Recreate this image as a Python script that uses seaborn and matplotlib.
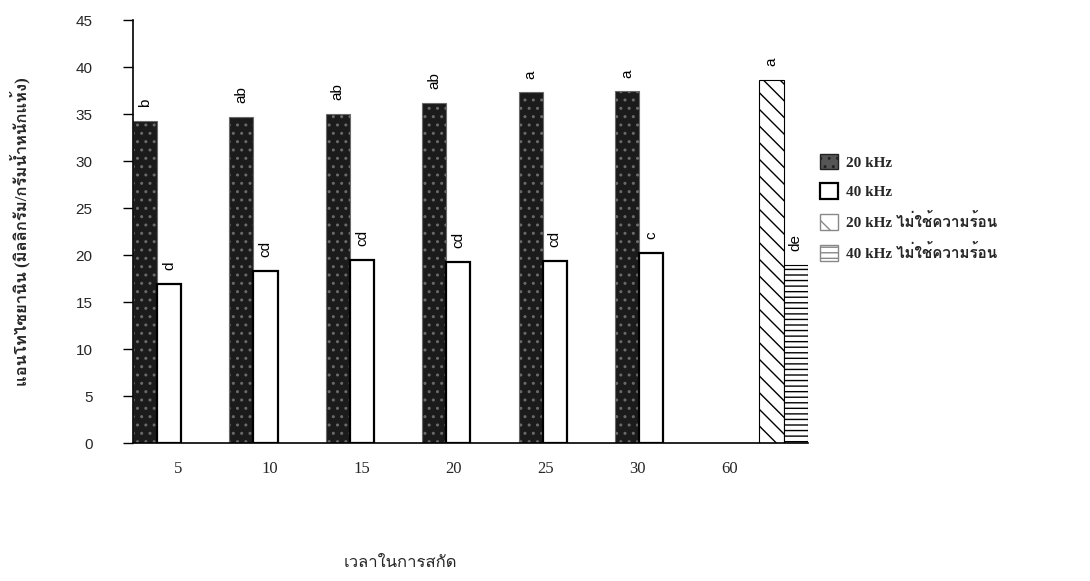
import numpy as np
import pandas as pd
import matplotlib
matplotlib.use("Agg")
import matplotlib.pyplot as plt
import seaborn as sns
from matplotlib import font_manager as fm
from matplotlib.ft2font import FT2Font
from matplotlib.patches import Patch

# ---------------- data ----------------
categories = ["5", "10", "15", "20", "25", "30", "60"]
series_names = ["20 kHz", "40 kHz", "20 kHz ไม่ใช้ความร้อน", "40 kHz ไม่ใช้ความร้อน"]

cat_20 = ["5", "10", "15", "20", "25", "30"]
val_20 = [34.3, 34.7, 35.0, 36.2, 37.3, 37.4]
lab_20 = ["b", "ab", "ab", "ab", "a", "a"]

cat_40 = ["5", "10", "15", "20", "25", "30"]
val_40 = [16.9, 18.3, 19.5, 19.3, 19.4, 20.2]
lab_40 = ["d", "cd", "cd", "cd", "cd", "c"]

cat_20nh = ["60"]
val_20nh = [38.6]
lab_20nh = ["a"]

cat_40nh = ["60"]
val_40nh = [18.9]
lab_40nh = ["de"]

y_ticks = [0, 5, 10, 15, 20, 25, 30, 35, 40, 45]
x_label = "เวลาในการสกัด"
y_label = "แอนโทไซยานิน (มิลลิกรัม/กรัมน้ำหนักแห้ง)"

# ---------------- fonts ----------------
def find_thai_font():
    for f in fm.fontManager.ttflist:
        try:
            ft = FT2Font(f.fname)
            if ord("ก") in ft.get_charmap():
                return f.name
        except Exception:
            pass
    return None

sns.set_theme(style="white")
thai = find_thai_font()
fam_serif = ["Liberation Serif"] + ([thai] if thai else []) + ["DejaVu Sans"]
fam_sans = ["Liberation Sans"] + ([thai] if thai else []) + ["DejaVu Sans"]
plt.rcParams["font.family"] = fam_sans

# ---------------- frame ----------------
rows = []
for s, cats, vals in [(series_names[0], cat_20, val_20),
                      (series_names[1], cat_40, val_40),
                      (series_names[2], cat_20nh, val_20nh),
                      (series_names[3], cat_40nh, val_40nh)]:
    for c, v in zip(cats, vals):
        rows.append({"time": c, "series": s, "value": v})
df = pd.DataFrame(rows)

fig = plt.figure(figsize=(10.9, 5.81), dpi=100)
ax = fig.add_axes([0.122, 0.2375, 0.619, 0.728])

sns.barplot(data=df, x="time", y="value", hue="series", order=categories,
            hue_order=series_names, width=1.0, dodge=True, ax=ax,
            legend=False, errorbar=None)

styles = [
    dict(facecolor="#1b1b1b", edgecolor="#6a6a6a", hatch="..", lw=0.8),
    dict(facecolor="white", edgecolor="black", hatch=None, lw=1.6),
    dict(facecolor="white", edgecolor="black", hatch="\\\\", lw=0.8),
    dict(facecolor="white", edgecolor="black", hatch="---", lw=0.8),
]
labels_all = [lab_20, lab_40, lab_20nh, lab_40nh]
for cont, st, labs in zip(ax.containers, styles, labels_all):
    for p in cont:
        p.set_facecolor(st["facecolor"])
        p.set_edgecolor(st["edgecolor"])
        p.set_linewidth(st["lw"])
        if st["hatch"]:
            p.set_hatch(st["hatch"])
    ax.bar_label(cont, labels=labs, rotation=90, padding=10, fontsize=11,
                 family=fam_sans, color="black")

ax.set_xlim(-0.5, len(categories) - 0.5)
ax.set_ylim(0, 45)
ax.set_yticks(y_ticks)
ax.set_yticklabels([str(t) for t in y_ticks], fontsize=11)
ax.tick_params(axis="y", direction="out", length=7, width=1, pad=22, left=True,
               color="black")
xpos = [-0.034 + 0.954 * i for i in range(len(categories))]
ax.set_xticks(xpos)
ax.set_xticklabels(categories, fontsize=12, family=fam_serif)
ax.tick_params(axis="x", length=0, pad=13)

for side in ["top", "right"]:
    ax.spines[side].set_visible(False)
ax.spines["left"].set_color("black")
ax.spines["bottom"].set_color("black")
ax.spines["left"].set_linewidth(1.2)
ax.spines["bottom"].set_linewidth(1.2)
ax.grid(False)

ax.set_ylabel(y_label, fontsize=12, family=fam_serif, fontweight="bold")
ax.yaxis.set_label_coords(-0.152, 0.5)
ax.set_xlabel(x_label, fontsize=12, family=fam_serif)
ax.xaxis.set_label_coords(0.396, -0.265)

handles = [
    Patch(facecolor="#555555", edgecolor="#222222", hatch="..", label=series_names[0]),
    Patch(facecolor="white", edgecolor="black", linewidth=1.6, label=series_names[1]),
    Patch(facecolor="white", edgecolor="#888888", hatch="\\", label=series_names[2]),
    Patch(facecolor="white", edgecolor="#888888", hatch="---", label=series_names[3]),
]
fig.legend(handles=handles, loc="upper left", bbox_to_anchor=(806 / 1090, 1 - 140 / 581),
           frameon=False, prop={"family": fam_serif, "size": 11, "weight": "bold"},
           handlelength=1.2, handleheight=1.2, handletextpad=0.5, labelspacing=0.9)

fig.savefig("out.png", dpi=100)
